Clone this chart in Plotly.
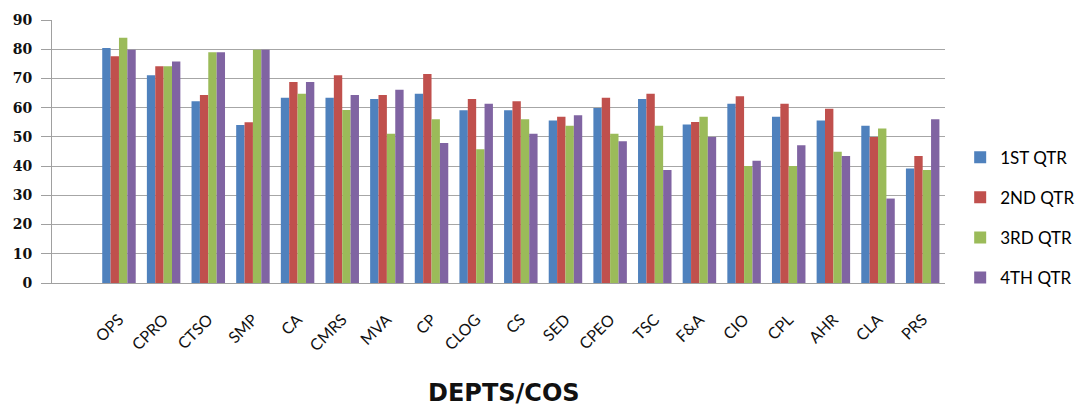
import plotly.graph_objects as go

# Departments shown along the x axis
depts = ["OPS", "CPRO", "CTSO", "SMP", "CA", "CMRS", "MVA", "CP", "CLOG", "CS",
         "SED", "CPEO", "TSC", "F&A", "CIO", "CPL", "AHR", "CLA", "PRS"]

# Quarterly scores per department
q1 = [80.4, 71.1, 62.2, 54.1, 63.4, 63.4, 63.0, 64.8, 59.1, 59.1,
      55.6, 59.9, 63.0, 54.2, 61.3, 56.9, 55.6, 53.8, 39.2]
q2 = [77.6, 74.2, 64.3, 55.0, 68.8, 71.1, 64.3, 71.5, 63.0, 62.2,
      56.9, 63.4, 64.8, 55.1, 63.9, 61.3, 59.6, 50.0, 43.5]
q3 = [83.9, 74.2, 79.0, 79.8, 64.8, 59.2, 51.1, 56.0, 45.8, 56.0,
      53.8, 51.1, 53.8, 56.9, 40.0, 40.0, 44.9, 52.9, 38.7]
q4 = [79.8, 75.8, 79.0, 79.8, 68.8, 64.3, 66.1, 47.9, 61.3, 51.1,
      57.4, 48.5, 38.7, 50.0, 41.8, 47.1, 43.5, 28.9, 56.0]

series_names = ["1ST QTR", "2ND QTR", "3RD QTR", "4TH QTR"]
series_values = [q1, q2, q3, q4]
colors = ["#4F81BD", "#C0504D", "#9BBB59", "#8064A2"]

y_ticks = [0, 10, 20, 30, 40, 50, 60, 70, 80, 90]

fig = go.Figure()
for name, vals, col in zip(series_names, series_values, colors):
    fig.add_trace(go.Bar(
        x=depts, y=vals, name=name,
        marker=dict(color=col, line=dict(width=0)),
        legendgroup=name,
    ))

fig.update_layout(
    width=1092, height=411,
    margin=dict(l=52, r=132, t=17, b=128),
    paper_bgcolor="white", plot_bgcolor="white",
    barmode="group", bargap=0.25, bargroupgap=0,
    showlegend=True,
    legend=dict(
        x=1.017, xanchor="left", y=0.545, yanchor="top",
        font=dict(family="Lato, Open Sans, sans-serif", size=17, color="#000"),
        tracegroupgap=15, bgcolor="rgba(0,0,0,0)",
    ),
    xaxis=dict(
        type="category", range=[-1.5, 18.5],
        tickangle=-45, ticklabelstandoff=20,
        tickfont=dict(family="Lato, Open Sans, sans-serif", size=16, color="#111"),
        showgrid=False, showline=True, linecolor="#a0a0a0", linewidth=1,
        ticks="",
    ),
    yaxis=dict(
        range=[0, 90], tickvals=y_ticks,
        tickfont=dict(family="DejaVu Serif, serif", size=14, color="#111",
                      weight="bold"),
        ticklabelstandoff=6,
        showgrid=True, gridcolor="#a6a6a6", gridwidth=1,
        showline=True, linecolor="#a0a0a0", linewidth=1,
        ticks="outside", ticklen=10, tickcolor="#a0a0a0",
        zeroline=False,
    ),
    annotations=[dict(
        text="<b>DEPTS/COS</b>", xref="paper", yref="paper",
        x=0.5, y=-0.417, xanchor="center", yanchor="middle", xshift=5,
        showarrow=False,
        font=dict(family="DejaVu Sans, Verdana, sans-serif", size=24, color="#111"),
    )],
)

fig.write_html("out.html")
